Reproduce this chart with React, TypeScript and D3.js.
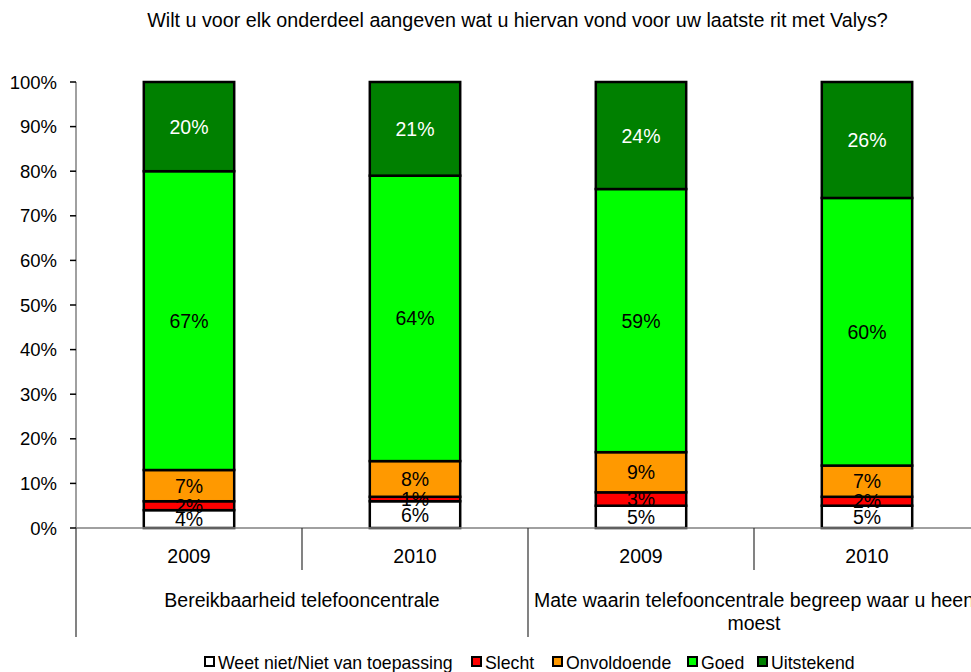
import React from "react";
import * as d3 from "d3";

const categories = ["2009", "2010", "2009", "2010"];
const groupLines = [["Bereikbaarheid telefooncentrale"], ["Mate waarin telefooncentrale begreep waar u heen", "moest"]];
const seriesNames = ["Weet niet/Niet van toepassing", "Slecht", "Onvoldoende", "Goed", "Uitstekend"];
const seriesColors = ["#FFFFFF", "#FF0000", "#FF9900", "#00FF00", "#008000"];
const labelColors = ["#000", "#000", "#000", "#000", "#fff"];
const weetNiet = [4, 6, 5, 5];
const slecht = [2, 1, 3, 2];
const onvoldoende = [7, 8, 9, 7];
const goed = [67, 64, 59, 60];
const uitstekend = [20, 21, 24, 26];
const yTicks = [0, 10, 20, 30, 40, 50, 60, 70, 80, 90, 100];
const title = "Wilt u voor elk onderdeel aangeven wat u hiervan vond voor uw laatste rit met Valys?";

const W = 971, H = 672;
const left = 76, right = 980, top = 82, bottom = 528;
const FONT = "'Liberation Sans', Arial, sans-serif";

export default function App() {
  const series = [weetNiet, slecht, onvoldoende, goed, uitstekend];
  const rows = categories.map((c, i) => {
    const r: any = { idx: String(i) };
    seriesNames.forEach((s, k) => (r[s] = series[k][i]));
    return r;
  });
  const stacked = d3.stack<any>().keys(seriesNames)(rows);
  const y = d3.scaleLinear().domain([0, 100]).range([bottom, top]);
  const x = d3.scaleBand<string>().domain(categories.map((_, i) => String(i))).range([left, right]).paddingInner(0.6).paddingOuter(0.3);
  const step = x.step();
  const groupScale = d3.scaleBand<number>().domain([0, 1]).range([left, right]);

  const legendX = [205, 472, 553, 688, 758];

  return (
    <svg width={W} height={H} style={{ position: "absolute", left: 0, top: 0, background: "#fff" }} fontFamily={FONT}>
      <text x={517.5} y={26.5} textAnchor="middle" fontSize={19.7} fill="#000">{title}</text>
      {/* y axis */}
      <line x1={left} x2={left} y1={top} y2={bottom} stroke="#808080" strokeWidth={1.5} />
      {yTicks.map((t) => (
        <g key={t}>
          <line x1={left - 6} x2={left} y1={y(t)} y2={y(t)} stroke="#000" strokeWidth={1.5} />
          <text x={57} y={y(t)} dy="0.36em" textAnchor="end" fontSize={18.5} fill="#000">{t}%</text>
        </g>
      ))}
      {/* bars */}
      {stacked.map((layer, k) => (
        <g key={layer.key}>
          {layer.map((d, i) => (
            <rect key={i} x={x(String(i))} width={x.bandwidth()} y={y(d[1])} height={y(d[0]) - y(d[1])}
              fill={seriesColors[k]} stroke="#000" strokeWidth={2.5} />
          ))}
        </g>
      ))}
      {stacked.map((layer, k) => (
        <g key={"l" + layer.key}>
          {layer.map((d, i) => (
            <text key={i} x={(x(String(i)) as number) + x.bandwidth() / 2} y={y((d[0] + d[1]) / 2)} dy="0.36em"
              textAnchor="middle" fontSize={19.5} fill={labelColors[k]}>{d[1] - d[0]}%</text>
          ))}
        </g>
      ))}
      {/* x axis */}
      <line x1={left} x2={W} y1={bottom} y2={bottom} stroke="#808080" strokeWidth={1.5} />
      {categories.map((c, i) => (
        <g key={i}>
          <line x1={left + step * i} x2={left + step * i} y1={bottom} y2={i % 2 === 0 ? 637 : 570} stroke="#303030" strokeWidth={1.2} />
          <text x={(x(String(i)) as number) + x.bandwidth() / 2} y={563.3} textAnchor="middle" fontSize={19.5}>{c}</text>
        </g>
      ))}
      {groupLines.map((lines, g) => (
        <g key={g}>
          {lines.map((ln, j) => (
            <text key={j} x={(groupScale(g) as number) + groupScale.bandwidth() / 2} y={607.3 + j * 22.5} textAnchor="middle" fontSize={19.5}>{ln}</text>
          ))}
        </g>
      ))}
      {/* legend */}
      {seriesNames.map((s, i) => (
        <g key={s}>
          <rect x={legendX[i]} y={657} width={9} height={9} fill={seriesColors[i]} stroke="#000" strokeWidth={2} />
          <text x={legendX[i] + 13} y={669} fontSize={17.7}>{s}</text>
        </g>
      ))}
    </svg>
  );
}
